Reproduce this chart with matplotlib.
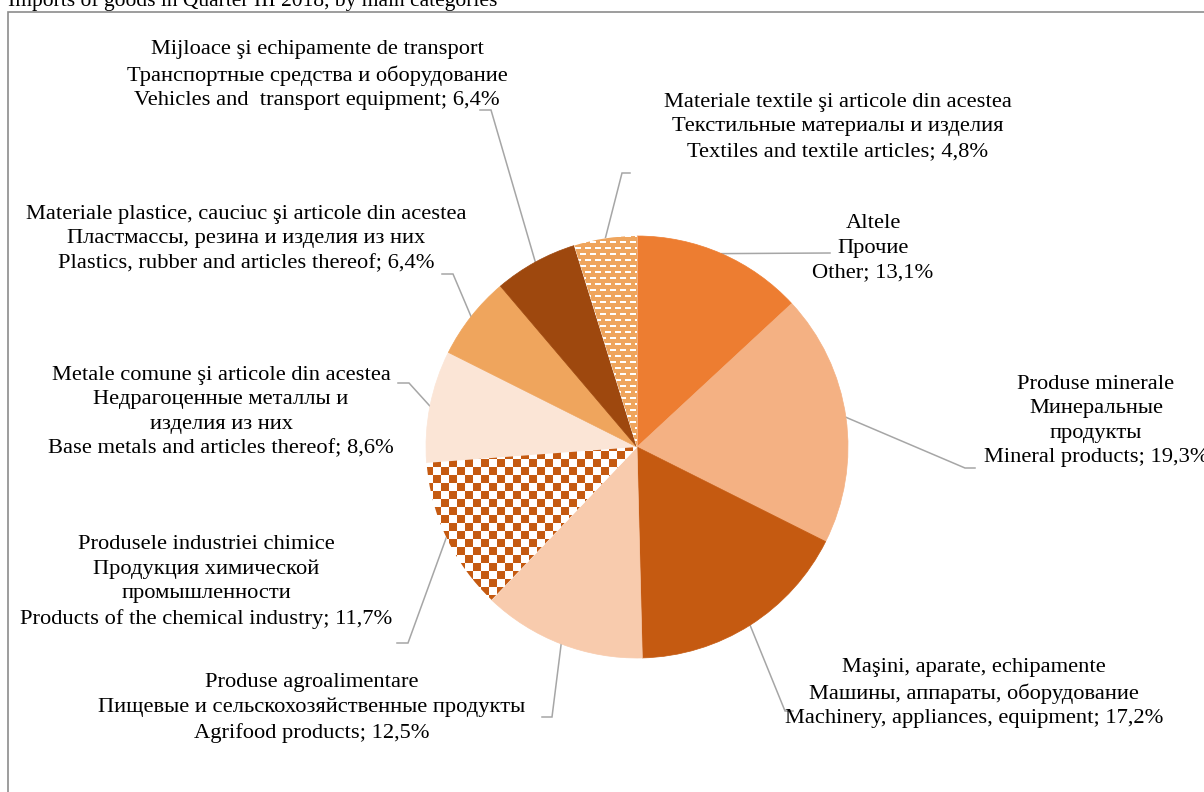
import numpy as np
import matplotlib.pyplot as plt
from matplotlib.colors import ListedColormap
from matplotlib.patches import Rectangle

plt.rcParams['font.family'] = ['Liberation Serif', 'DejaVu Serif']

title = 'Imports of goods in Quarter III 2018, by main categories'

labels = [
    'Altele\nПрочие\nOther',
    'Produse minerale\nМинеральные\nпродукты\nMineral products',
    'Maşini, aparate, echipamente\nМашины, аппараты, оборудование\nMachinery, appliances, equipment',
    'Produse agroalimentare\nПищевые и сельскохозяйственные продукты\nAgrifood products',
    'Produsele industriei chimice\nПродукция химической\nпромышленности\nProducts of the chemical industry',
    'Metale comune şi articole din acestea\nНедрагоценные металлы и\nизделия из них\nBase metals and articles thereof',
    'Materiale plastice, cauciuc şi articole din acestea\nПластмассы, резина и изделия из них\nPlastics, rubber and articles thereof',
    'Mijloace şi echipamente de transport\nТранспортные средства и оборудование\nVehicles and  transport equipment',
    'Materiale textile şi articole din acestea\nТекстильные материалы и изделия\nTextiles and textile articles',
]
shares = [13.1, 19.3, 17.2, 12.5, 11.7, 8.6, 6.4, 6.4, 4.8]
colors = ['#ED7D31', '#F4B183', '#C55A11', '#F8CBAD', '#C55A11',
          '#FBE5D6', '#EFA55D', '#9E480E', '#EFA55D']
patterns = [None, None, None, None, 'checker', None, None, None, 'dash']

# label layout, in image pixels (x right, y down): text centre, elbow, end of leader
text_pos = [(873, 248), (1096, 421), (974, 693), (312, 708), (206, 582),
            (221, 412), (246, 239), (317, 75), (838, 127)]
elbow = [(830, 253), (965, 468), (785, 711), (552, 717), (408, 643),
         (409, 383), (453, 274), (491, 110), (622, 173)]
leader_end = [(830, 253), (975, 468), (793, 711), (542, 717), (397, 643),
              (398, 383), (442, 274), (480, 110), (630, 173)]

W, H = 1204, 792
cx, cy, R = 637, H - 447, 211

fig = plt.figure(figsize=(W / 100, H / 100), dpi=100)
ax = fig.add_axes([0, 0, 1, 1])

wedges, _ = ax.pie(shares, colors=colors, startangle=90, counterclock=False,
                   center=(cx, cy), radius=R, frame=True,
                   wedgeprops=dict(linewidth=0.5))
for w, c in zip(wedges, colors):
    w.set_edgecolor(c)

# fill patterns clipped to wedges
n = 2 * R + 2
ii, jj = np.indices((n, n))
ext = (cx - R - 1, cx + R + 1, cy - R - 1, cy + R + 1)
for w, pat, c in zip(wedges, patterns, colors):
    if pat is None:
        continue
    if pat == 'checker':
        img = ((ii // 8 + jj // 8) % 2).astype(float)
    else:
        shift = 5 * ((ii // 6) % 2)
        img = 1.0 - (((ii % 6) < 2) & (((jj + shift) % 10) < 6)).astype(float)
    cmap = ListedColormap(['white', c])
    w.set_facecolor('white')
    w.set_edgecolor('white')
    im = ax.imshow(img, cmap=cmap, extent=ext, origin='upper',
                   interpolation='nearest', zorder=1.5, vmin=0, vmax=1)
    im.set_clip_path(w)

# leader lines and labels
cum = np.cumsum([0] + shares[:-1])
for k, (lab, v) in enumerate(zip(labels, shares)):
    ang = np.deg2rad(90 - 360 * (cum[k] + v / 2) / 100)
    x0 = cx + R * np.cos(ang)
    y0 = cy + R * np.sin(ang)
    ex, ey = elbow[k]
    fx, fy = leader_end[k]
    ax.plot([x0, ex, fx], [y0, H - ey, H - fy], color='#A6A6A6', lw=1.1,
            zorder=0.5, solid_joinstyle='miter')
    tx, ty = text_pos[k]
    ax.text(tx, H - ty, lab + '; ' + f'{v:.1f}'.replace('.', ',') + '%',
            ha='center', va='center', multialignment='center',
            fontsize=16.2, linespacing=1.38, color='black')

ax.add_patch(Rectangle((7.5, -20), W + 20, H - 12 + 20, fill=False,
                       edgecolor='#8C8C8C', lw=1.2, zorder=3))
fig.text(8 / W, 1 - 6 / H, title, ha='left', va='baseline', fontsize=15.5)

ax.set_xlim(0, W)
ax.set_ylim(0, H)
ax.set_aspect('equal')
ax.axis('off')

plt.savefig('out.png', dpi=100)
